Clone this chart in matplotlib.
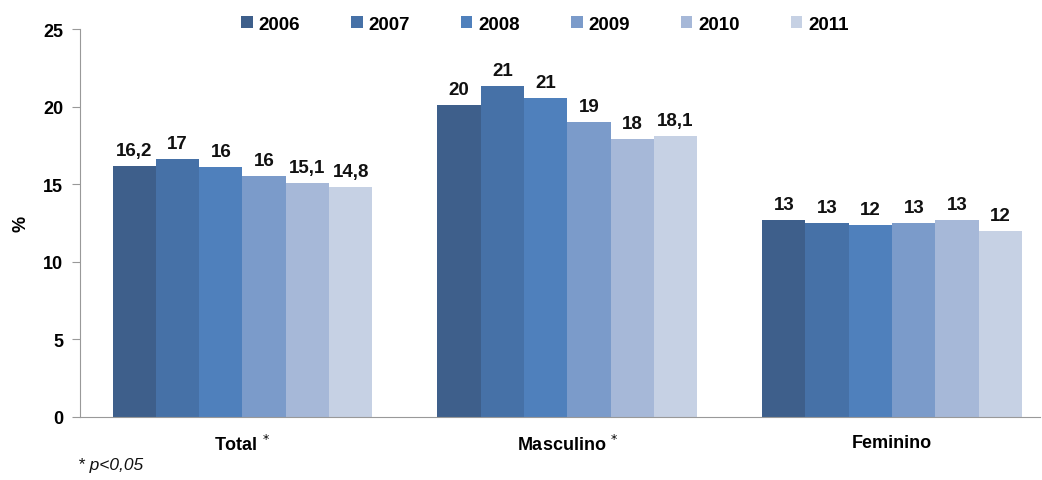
import matplotlib
matplotlib.use("Agg")
import matplotlib.pyplot as plt
import numpy as np

categories = ["Total", "Masculino", "Feminino"]
cat_labels = ["Total $^{*}$", "Masculino $^{*}$", "Feminino"]
years = ["2006", "2007", "2008", "2009", "2010", "2011"]
values = {
    "2006": [16.2, 20.1, 12.7],
    "2007": [16.6, 21.3, 12.5],
    "2008": [16.1, 20.55, 12.4],
    "2009": [15.55, 19.0, 12.5],
    "2010": [15.05, 17.9, 12.7],
    "2011": [14.8, 18.1, 12.0],
}
labels = {
    "2006": ["16,2", "20", "13"],
    "2007": ["17", "21", "13"],
    "2008": ["16", "21", "12"],
    "2009": ["16", "19", "13"],
    "2010": ["15,1", "18", "13"],
    "2011": ["14,8", "18,1", "12"],
}
colors = ["#3E5F8B", "#4671A7", "#4F80BC", "#7B9BCA", "#A6B8D8", "#C6D1E4"]

plt.rcParams['font.family'] = ['Liberation Sans', 'DejaVu Sans']

fig = plt.figure(figsize=(10.42, 4.81), dpi=100)
ax = fig.add_axes([0.0768, 0.131, 0.9212, 0.8066])

x = np.arange(len(categories))
n = len(years)
w = 0.8 / n
for i, (yr, c) in enumerate(zip(years, colors)):
    pos = x - 0.4 + w * (i + 0.5)
    bars = ax.bar(pos, values[yr], width=w, color=c, label=yr, linewidth=0)
    for b, lab in zip(bars, labels[yr]):
        ax.annotate(lab, (b.get_x() + b.get_width() / 2, b.get_height()),
                    xytext=(0, 5), textcoords="offset points",
                    ha="center", va="bottom", fontsize=13.5, fontweight="bold",
                    color="#111111")

ax.set_xlim(-0.5, 2.455)
ax.set_ylim(0, 25)
ax.set_yticks([0, 5, 10, 15, 20, 25])
ax.tick_params(axis="y", labelsize=13, length=6, color="#999999", pad=6)
for t in ax.get_yticklabels():
    t.set_fontweight("bold")
ax.set_xticks(x)
ax.set_xticklabels(cat_labels, fontsize=13, fontweight="bold")
ax.tick_params(axis="x", length=0, pad=12)

for s in ["top", "right"]:
    ax.spines[s].set_visible(False)
ax.spines["left"].set_color("#999999")
ax.spines["bottom"].set_color("#999999")

ax.set_ylabel("%", fontsize=13, fontweight="bold", labelpad=10)

leg = fig.legend(loc="center", bbox_to_anchor=(0.523, 0.948), ncol=6,
                 frameon=False, handlelength=0.6, handleheight=0.6,
                 handletextpad=0.3, columnspacing=2.75,
                 prop={"weight": "bold", "size": 13.5})

fig.text(0.075, 0.022, "* p<0,05", fontsize=12.5, style="italic", color="#111111")

fig.savefig("out.png", dpi=100)
